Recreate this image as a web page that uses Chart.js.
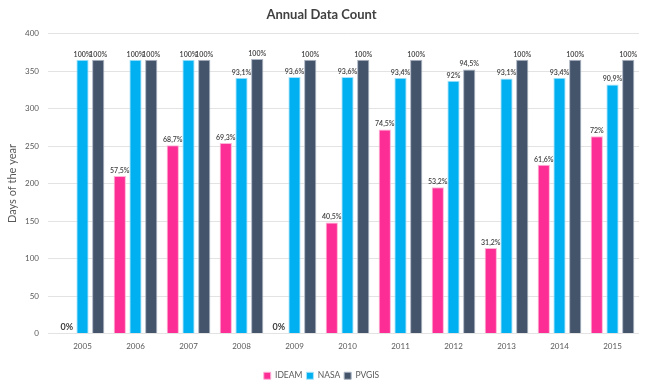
<!DOCTYPE html>
<html>
<head>
<meta charset="utf-8">
<script src="https://cdn.jsdelivr.net/npm/chart.js"></script>
<style>
  html, body { margin: 0; padding: 0; background: #fff; }
  #wrap { width: 650px; height: 390px; }
</style>
</head>
<body>
<div id="wrap"><canvas id="chart" width="650" height="390"></canvas></div>
<script>
// years on the x axis
const years = ['2005', '2006', '2007', '2008', '2009', '2010', '2011', '2012', '2013', '2014', '2015'];

// days with data per year
const ideamDays = [0, 210, 251, 254, 0, 148, 272, 195, 114, 225, 263];
const nasaDays  = [365, 365, 365, 341, 342, 342, 341, 337, 340, 341, 332];
const pvgisDays = [365, 365, 365, 366, 365, 365, 365, 352, 365, 365, 365];

// percentage labels printed over the bars
const ideamLabels = ['0%', '57,5%', '68,7%', '69,3%', '0%', '40,5%', '74,5%', '53,2%', '31,2%', '61,6%', '72%'];
const nasaLabels  = ['100%', '100%', '100%', '93,1%', '93,6%', '93,6%', '93,4%', '92%', '93,1%', '93,4%', '90,9%'];
const pvgisLabels = ['100%', '100%', '100%', '100%', '100%', '100%', '100%', '94,5%', '100%', '100%', '100%'];

const FONT = 'Lato, "Liberation Sans", sans-serif';

// draws the percentage text above each bar
const barLabels = {
    id: 'barLabels',
    afterDatasetsDraw(chart) {
        const ctx = chart.ctx;
        ctx.save();
        ctx.fillStyle = '#404040';
        ctx.textAlign = 'center';
        ctx.textBaseline = 'bottom';
        chart.data.datasets.forEach((ds, i) => {
            const meta = chart.getDatasetMeta(i);
            meta.data.forEach((bar, j) => {
                const txt = ds.pctLabels[j];
                if (!txt) return;
                // the 0% labels sit on the baseline and are a bit heavier
                ctx.font = (ds.data[j] === 0 ? 'bold 9px ' : '600 7px ') + FONT;
                ctx.fillText(txt, bar.x, bar.y - 2);
            });
        });
        ctx.restore();
    }
};

new Chart(document.getElementById('chart').getContext('2d'), {
    type: 'bar',
    data: {
        labels: years,
        datasets: [
            { label: 'IDEAM', data: ideamDays, pctLabels: ideamLabels, backgroundColor: '#fd2d96', borderColor: '#ffb3d6', borderWidth: 1 },
            { label: 'NASA', data: nasaDays, pctLabels: nasaLabels, backgroundColor: '#00b0f0', borderColor: '#a8e4fb', borderWidth: 1 },
            { label: 'PVGIS', data: pvgisDays, pctLabels: pvgisLabels, backgroundColor: '#44546a', borderColor: '#a9b3c2', borderWidth: 1 }
        ]
    },
    options: {
        responsive: false,
        animation: false,
        datasets: { bar: { categoryPercentage: 0.89, barPercentage: 0.78 } },
        layout: { padding: { left: 4, right: 11, top: 0, bottom: 0 } },
        plugins: {
            title: {
                display: true,
                text: 'Annual Data Count',
                color: '#404040',
                font: { family: FONT, size: 13, weight: 'bold' },
                padding: { top: 7, bottom: 11 }
            },
            legend: {
                position: 'bottom',
                labels: {
                    boxWidth: 7, boxHeight: 7,
                    color: '#595959',
                    font: { family: FONT, size: 8.5 },
                    padding: 4
                }
            },
            tooltip: { enabled: false }
        },
        scales: {
            x: {
                grid: { display: false, drawTicks: false },
                border: { display: false },
                ticks: { color: '#595959', font: { family: FONT, size: 8 }, padding: 8 },
                afterFit(scale) { scale.height = 34; }
            },
            y: {
                min: 0, max: 400,
                ticks: { stepSize: 50, color: '#595959', font: { family: FONT, size: 8 }, padding: 9 },
                grid: { color: '#e3e3e3' },
                border: { display: false },
                title: { display: true, text: 'Days of the year', color: '#595959', font: { family: FONT, size: 11 }, padding: 2 },
                afterFit(scale) { scale.width = 52; }
            }
        }
    },
    plugins: [barLabels]
});
</script>
</body>
</html>
